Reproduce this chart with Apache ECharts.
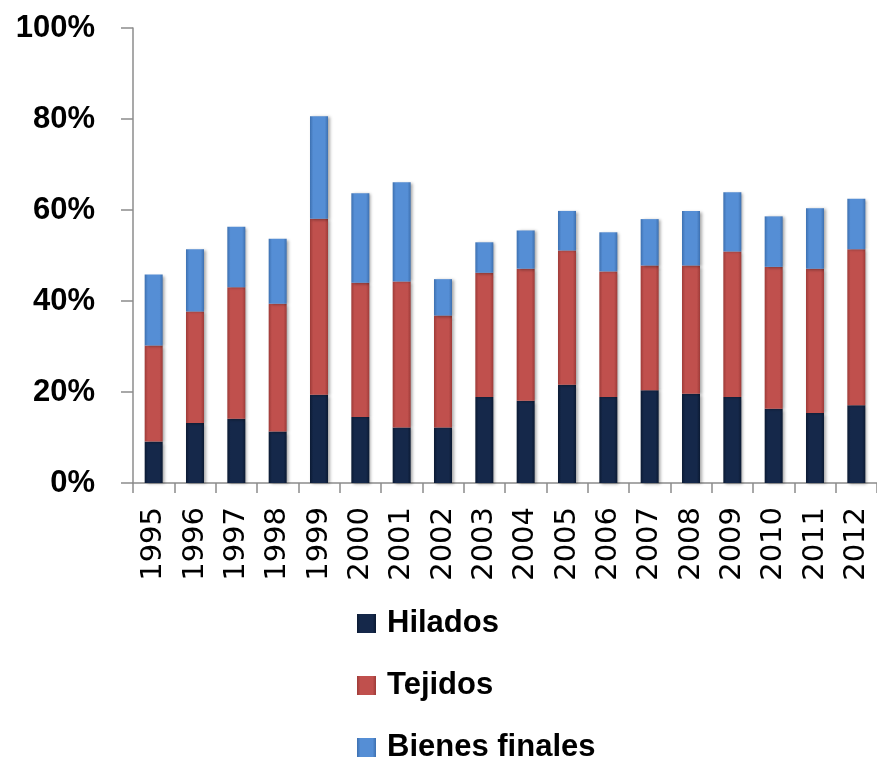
<!DOCTYPE html>
<html>
<head>
<meta charset="utf-8">
<script src="https://cdn.jsdelivr.net/npm/echarts@6/dist/echarts.min.js"></script>
<style>
  html, body { margin: 0; padding: 0; background: #fff; }
  #chart { width: 877px; height: 759px; }
</style>
</head>
<body>
<div id="chart"></div>
<script>
  // categorias (años)
  var years = ['1995','1996','1997','1998','1999','2000','2001','2002','2003','2004','2005','2006','2007','2008','2009','2010','2011','2012']
  // participación en %
  var hilados = [9.1, 13.2, 14.1, 11.3, 19.4, 14.5, 12.2, 12.2, 18.9, 18.1, 21.6, 18.9, 20.4, 19.6, 18.9, 16.3, 15.4, 17.1]
  var tejidos = [21.1, 24.5, 28.9, 28.1, 38.7, 29.5, 32.1, 24.6, 27.3, 29.0, 29.5, 27.6, 27.4, 28.2, 32.0, 31.2, 31.7, 34.3]
  var bienesFinales = [15.6, 13.7, 13.3, 14.3, 22.5, 19.7, 21.8, 8.0, 6.7, 8.4, 8.7, 8.6, 10.2, 12.0, 13.0, 11.1, 13.3, 11.1]
  var seriesNames = ['Hilados', 'Tejidos', 'Bienes finales']
  var yTicks = [0, 20, 40, 60, 80, 100]

  var fontFam = '"Liberation Sans", Arial, sans-serif'

  // relleno con un poco de relieve, como el original
  let bevel = function (edge, mid) {
    return new echarts.graphic.LinearGradient(0, 0, 1, 0, [
      {offset: 0, color: edge},
      {offset: 0.18, color: mid},
      {offset: 0.82, color: mid},
      {offset: 1, color: edge}
    ])
  }

  let makeSeries = function (name, data, edge, mid) {
    return {
      name: name,
      type: 'bar',
      stack: 'total',
      barWidth: 18,
      itemStyle: {
        color: bevel(edge, mid),
        shadowColor: 'rgba(0,0,0,0.35)',
        shadowBlur: 3,
        shadowOffsetX: 2,
        shadowOffsetY: 1
      },
      data: data
    }
  }

  // una leyenda por fila, para que no se parta en columnas
  let makeLegend = function (name, top) {
    return {
      left: 352,
      top: top,
      itemWidth: 19,
      itemHeight: 19,
      icon: 'rect',
      textStyle: {
        fontFamily: fontFam,
        fontWeight: 'bold',
        fontSize: 31,
        color: '#000',
        padding: [0, 0, 0, 6]
      },
      data: [name]
    }
  }

  let myChart = echarts.init(document.getElementById('chart'))
  var option = {
    animation: false,
    grid: {
      left: 133,
      top: 28,
      width: 752,
      height: 455
    },
    legend: [
      makeLegend(seriesNames[0], 603),
      makeLegend(seriesNames[1], 665),
      makeLegend(seriesNames[2], 727)
    ],
    xAxis: {
      type: 'category',
      data: years,
      axisLine: { lineStyle: { color: '#8c8c8c', width: 1.5 } },
      axisTick: { show: true, length: 10, lineStyle: { color: '#8c8c8c', width: 1.5 } },
      axisLabel: {
        rotate: 90,
        margin: 24,
        interval: 0,
        fontFamily: '"DejaVu Sans", sans-serif',
        fontSize: 29,
        color: '#000'
      }
    },
    yAxis: {
      type: 'value',
      min: yTicks[0],
      max: yTicks[yTicks.length - 1],
      interval: 20,
      splitLine: { show: false },
      axisLine: { show: true, lineStyle: { color: '#8c8c8c', width: 1.5 } },
      axisTick: { show: true, length: 12, lineStyle: { color: '#8c8c8c', width: 1.5 } },
      axisLabel: {
        margin: 38,
        fontFamily: fontFam,
        fontWeight: 'bold',
        fontSize: 31,
        color: '#000',
        formatter: '{value}%'
      }
    },
    series: [
      makeSeries(seriesNames[0], hilados, '#0b1a33', '#15284a'),
      makeSeries(seriesNames[1], tejidos, '#9e3b38', '#c0504d'),
      makeSeries(seriesNames[2], bienesFinales, '#3d70b0', '#558ed5')
    ]
  }

  myChart.setOption(option)
</script>
</body>
</html>
